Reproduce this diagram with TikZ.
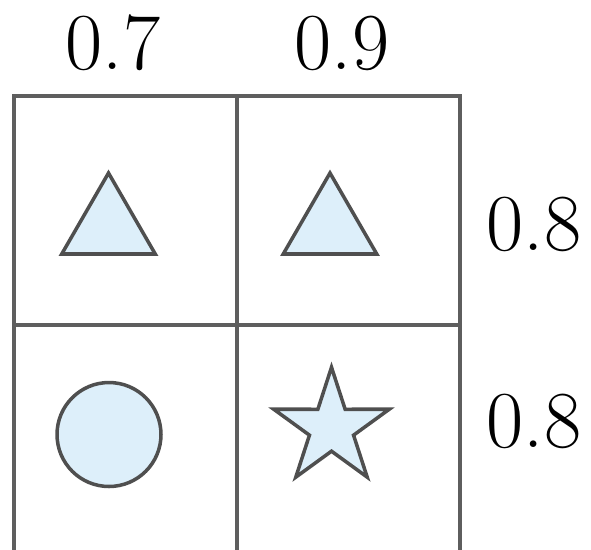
\documentclass[tikz,border=0pt]{standalone}
\usepackage{xcolor}
\usepackage{tikz}
\usetikzlibrary{shapes.geometric}

\definecolor{lineGray}{HTML}{5E5E5E}
\definecolor{edgeGray}{HTML}{4F4F4F}
\definecolor{paleBlue}{HTML}{DDEFFA}

\begin{document}
\begin{tikzpicture}[
    x=0.02cm, y=-0.02cm,
    gridline/.style={draw=lineGray, line width=2pt},
    figure/.style={draw=edgeGray, line width=2pt, fill=paleBlue, inner sep=0pt, line join=miter},
    tri/.style={figure, regular polygon, regular polygon sides=3, minimum size=2.16cm},
    val/.style={inner sep=0pt, font=\fontsize{46}{50}\selectfont}
]
\useasboundingbox (0,0) rectangle (591,549);

% Grid
\draw[gridline] (14,96) rectangle (460,553);
\draw[gridline] (237,96) -- (237,553);
\draw[gridline] (14,325) -- (460,325);

% Shapes in the cells
\node[tri] (triA) at (108.5,227) {};
\node[tri] (triB) at (330,227) {};
\node[figure, circle, minimum size=2.08cm] (disc) at (109,434.5) {};
\node[figure, star, star points=5, star point ratio=2.62, minimum size=2.43cm] (starC) at (331.5,428) {};

% Column and row values
\node[val] (colA) at (113,43) {0.7};
\node[val] (colB) at (342,43) {0.9};
\node[val] (rowA) at (534,224) {0.8};
\node[val] (rowB) at (534,421) {0.8};
\end{tikzpicture}
\end{document}
